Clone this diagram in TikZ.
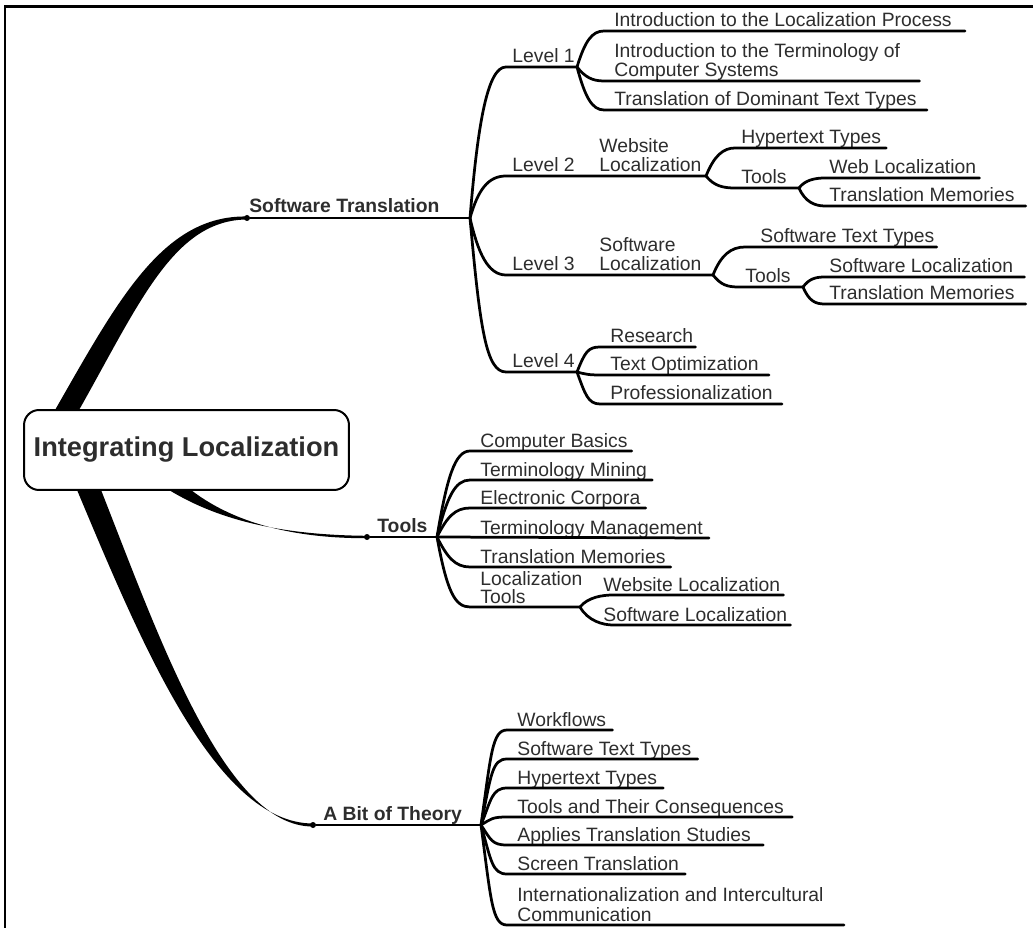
\documentclass[tikz,border=0pt]{standalone}
\usepackage{fontspec}
\setmainfont{Liberation Sans}
\usetikzlibrary{positioning}
\definecolor{labelgray}{RGB}{45,45,45}
\tikzstyle{root} = [rectangle, rounded corners=0.3cm, draw=black, line width=0.4mm,
                    minimum width=6.5cm, minimum height=1.6cm, text centered,
                    font=\fontsize{15.5}{18}\selectfont\bfseries, text=labelgray]
\tikzstyle{leaf} = [anchor=base west, inner sep=0pt, text=labelgray, align=left,
                    font=\fontsize{11}{11}\selectfont]
\tikzstyle{mainlabel} = [leaf, font=\fontsize{11}{11}\selectfont\bfseries]
\tikzstyle{limb} = [line width=0.55mm, line cap=round]
\tikzstyle{knot} = [circle, fill=black, inner sep=0pt, minimum size=1.2mm]

\begin{document}
\begin{tikzpicture}[x=0.02cm, y=-0.02cm]
    \useasboundingbox (0,0) rectangle (1033,928);
    % frame
    \draw[line width=0.6mm] (5,928) -- (5,7) -- (1033,7);

    \node (Root) [root] at (186.5,450) {Integrating Localization};

    % main topics
    \node (StDot) [knot] at (247,218) {};
    \node (SoftwareTranslation) [mainlabel] at (249,213) {Software Translation};
    \node (ToolsDot) [knot] at (367,537) {};
    \node (Tools) [mainlabel] at (377,532) {Tools};
    \node (TheoryDot) [knot] at (313,825) {};
    \node (Theory) [mainlabel] at (323,820) {A Bit of Theory};
    \coordinate (StJ) at (470,218);
    \coordinate (ToolsJ) at (437,537);
    \coordinate (TheoryJ) at (481,825);

    \fill ([shift={(32,1)}]Root.north west) .. controls (118,300) and (163,215) .. ([shift={(0,-1.5)}]StDot.center)
        -- ([shift={(0,1.5)}]StDot.center) .. controls (174,220) and (140,302) .. ([shift={(56,1)}]Root.north west) -- cycle;
    \fill ([shift={(146,-1)}]Root.south west) .. controls (215,518) and (275,535) .. ([shift={(0,-1.2)}]ToolsDot.center)
        -- ([shift={(0,1.2)}]ToolsDot.center) .. controls (275,538.5) and (222,514) .. ([shift={(168,-1)}]Root.south west) -- cycle;
    \fill ([shift={(54,-1)}]Root.south west) .. controls (140,640) and (215,823.5) .. ([shift={(0,-1.5)}]TheoryDot.center)
        -- ([shift={(0,1.5)}]TheoryDot.center) .. controls (225,827) and (160,640) .. ([shift={(78,-1)}]Root.south west) -- cycle;
    \draw[limb] (StDot) -- (StJ);
    \draw[limb] (ToolsDot) -- (ToolsJ);
    \draw[limb] (TheoryDot) -- (TheoryJ);

    % Software Translation
    \node (Level1) [leaf] at (512,63) {Level 1};
    \node (Level2) [leaf] at (512,172) {Level 2};
    \node (Level3) [leaf] at (512,271) {Level 3};
    \node (Level4) [leaf] at (512,368) {Level 4};
    \coordinate (Level1J) at (577,67);
    \coordinate (Level2J) at (706,176);
    \coordinate (Level3J) at (713,275);
    \coordinate (Level4J) at (577,372);
    \draw[limb] (StJ) .. controls +(8,-98) and +(-18,0) .. ([shift={(-6,4)}]Level1.base west) -- (Level1J);
    \draw[limb] (StJ) .. controls +(8,-28) and +(-18,0) .. ([shift={(-6,4)}]Level2.base west) -- (Level2J);
    \draw[limb] (StJ) .. controls +(8,35) and +(-18,0) .. ([shift={(-6,4)}]Level3.base west) -- (Level3J);
    \draw[limb] (StJ) .. controls +(10,110) and +(-20,0) .. ([shift={(-6,4)}]Level4.base west) -- (Level4J);

    % Level 1
    \node (Intro) [leaf] at (614,27) {Introduction to the Localization Process};
    \node (Terms) [leaf] at (614,77) {Introduction to the Terminology of\\Computer Systems};
    \node (Dominant) [leaf] at (614,106) {Translation of Dominant Text Types};
    \draw[limb] (Level1J) .. controls +(8,-26) and +(-12,0) .. ([shift={(-10,4)}]Intro.base west) -- ([shift={(13,4)}]Intro.base east);
    \draw[limb] (Level1J) .. controls +(8,10) and +(-12,0) .. ([shift={(-10,4)}]Terms.base west) -- ([shift={(19,4)}]Terms.base east);
    \draw[limb] (Level1J) .. controls +(8,30) and +(-12,0) .. ([shift={(-10,4)}]Dominant.base west) -- ([shift={(10,4)}]Dominant.base east);

    % Level 2
    \node (Website) [leaf] at (599,172) {Website\\Localization};
    \node (Hyper2) [leaf] at (741,144) {Hypertext Types};
    \node (Tools2) [leaf] at (741,184) {Tools};
    \coordinate (Tools2J) at (799,188);
    \node (WebLoc) [leaf] at (829,174) {Web Localization};
    \node (TM2) [leaf] at (829,202) {Translation Memories};
    \draw[limb] (Level2J) .. controls +(8,-20) and +(-12,0) .. ([shift={(-6,4)}]Hyper2.base west) -- ([shift={(5,4)}]Hyper2.base east);
    \draw[limb] (Level2J) .. controls +(8,10) and +(-12,0) .. ([shift={(-6,4)}]Tools2.base west) -- (Tools2J);
    \draw[limb] (Tools2J) .. controls +(6,-8) and +(-10,0) .. ([shift={(-4,4)}]WebLoc.base west) -- ([shift={(3,4)}]WebLoc.base east);
    \draw[limb] (Tools2J) .. controls +(6,14) and +(-10,0) .. ([shift={(-4,4)}]TM2.base west) -- ([shift={(11,4)}]TM2.base east);

    % Level 3
    \node (SoftLoc) [leaf] at (599,271) {Software\\Localization};
    \node (SoftTypes3) [leaf] at (760,243) {Software Text Types};
    \node (Tools3) [leaf] at (745,283) {Tools};
    \coordinate (Tools3J) at (803,287);
    \node (SwLoc3) [leaf] at (829,273) {Software Localization};
    \node (TM3) [leaf] at (829,300) {Translation Memories};
    \draw[limb] (Level3J) .. controls +(8,-20) and +(-14,0) .. ([shift={(-15,4)}]SoftTypes3.base west) -- ([shift={(2,4)}]SoftTypes3.base east);
    \draw[limb] (Level3J) .. controls +(8,10) and +(-12,0) .. ([shift={(-6,4)}]Tools3.base west) -- (Tools3J);
    \draw[limb] (Tools3J) .. controls +(6,-8) and +(-10,0) .. ([shift={(-4,4)}]SwLoc3.base west) -- ([shift={(11,4)}]SwLoc3.base east);
    \draw[limb] (Tools3J) .. controls +(6,14) and +(-10,0) .. ([shift={(-4,4)}]TM3.base west) -- ([shift={(11,4)}]TM3.base east);

    % Level 4
    \node (Research) [leaf] at (610,343) {Research};
    \node (TextOpt) [leaf] at (610,371) {Text Optimization};
    \node (Prof) [leaf] at (610,400) {Professionalization};
    \draw[limb] (Level4J) .. controls +(8,-20) and +(-12,0) .. ([shift={(-10,4)}]Research.base west) -- ([shift={(2,4)}]Research.base east);
    \draw[limb] (Level4J) .. controls +(8,2) and +(-12,0) .. ([shift={(-10,4)}]TextOpt.base west) -- ([shift={(10,4)}]TextOpt.base east);
    \draw[limb] (Level4J) .. controls +(8,22) and +(-12,0) .. ([shift={(-10,4)}]Prof.base west) -- ([shift={(9,4)}]Prof.base east);

    % Tools
    \node (Basics) [leaf] at (480,447) {Computer Basics};
    \node (Mining) [leaf] at (480,476) {Terminology Mining};
    \node (Corpora) [leaf] at (480,504) {Electronic Corpora};
    \node (TermMgmt) [leaf] at (480,534) {Terminology Management};
    \node (TM4) [leaf] at (480,563) {Translation Memories};
    \node (LocTools) [leaf, font=\fontsize{11}{10}\selectfont] at (480,603) {Localization\\Tools};
    \coordinate (LocToolsJ) at (580,607);
    \node (WebLoc4) [leaf] at (603,591) {Website Localization};
    \node (SwLoc4) [leaf] at (603,621) {Software Localization};
    \draw[limb] (ToolsJ) .. controls +(10,-60) and +(-15,0) .. ([shift={(-10,4)}]Basics.base west) -- ([shift={(4,4)}]Basics.base east);
    \draw[limb] (ToolsJ) .. controls +(10,-40) and +(-15,0) .. ([shift={(-10,4)}]Mining.base west) -- ([shift={(5,4)}]Mining.base east);
    \draw[limb] (ToolsJ) .. controls +(10,-20) and +(-15,0) .. ([shift={(-10,4)}]Corpora.base west) -- ([shift={(5,4)}]Corpora.base east);
    \draw[limb] (ToolsJ) -- ([shift={(6,4)}]TermMgmt.base east);
    \draw[limb] (ToolsJ) .. controls +(10,20) and +(-15,0) .. ([shift={(-10,4)}]TM4.base west) -- ([shift={(5,4)}]TM4.base east);
    \draw[limb] (ToolsJ) .. controls +(10,55) and +(-15,0) .. ([shift={(-10,4)}]LocTools.base west) -- (LocToolsJ);
    \draw[limb] (LocToolsJ) .. controls +(8,-10) and +(-10,0) .. ([shift={(10,4)}]WebLoc4.base west) -- ([shift={(3,4)}]WebLoc4.base east);
    \draw[limb] (LocToolsJ) .. controls +(8,14) and +(-10,0) .. ([shift={(10,4)}]SwLoc4.base west) -- ([shift={(3,4)}]SwLoc4.base east);

    % A Bit of Theory
    \node (Workflows) [leaf] at (517,726) {Workflows};
    \node (SoftTypes5) [leaf] at (517,755) {Software Text Types};
    \node (Hyper5) [leaf] at (517,784) {Hypertext Types};
    \node (Consequences) [leaf] at (517,813) {Tools and Their Consequences};
    \node (Applies) [leaf] at (517,841) {Applies Translation Studies};
    \node (Screen) [leaf] at (517,870) {Screen Translation};
    \node (Intl) [leaf] at (517,921) {Internationalization and Intercultural\\Communication};
    \draw[limb] (TheoryJ) .. controls +(10,-70) and +(-15,0) .. ([shift={(-10,4)}]Workflows.base west) -- ([shift={(6,4)}]Workflows.base east);
    \draw[limb] (TheoryJ) .. controls +(10,-50) and +(-15,0) .. ([shift={(-10,4)}]SoftTypes5.base west) -- ([shift={(6,4)}]SoftTypes5.base east);
    \draw[limb] (TheoryJ) .. controls +(10,-25) and +(-15,0) .. ([shift={(-10,4)}]Hyper5.base west) -- ([shift={(6,4)}]Hyper5.base east);
    \draw[limb] (TheoryJ) .. controls +(10,-6) and +(-15,0) .. ([shift={(-10,4)}]Consequences.base west) -- ([shift={(8,4)}]Consequences.base east);
    \draw[limb] (TheoryJ) .. controls +(10,15) and +(-15,0) .. ([shift={(-10,4)}]Applies.base west) -- ([shift={(12,4)}]Applies.base east);
    \draw[limb] (TheoryJ) .. controls +(10,35) and +(-15,0) .. ([shift={(-10,4)}]Screen.base west) -- ([shift={(6,4)}]Screen.base east);
    \draw[limb] (TheoryJ) .. controls +(10,75) and +(-15,0) .. ([shift={(-10,4)}]Intl.base west) -- ([shift={(20,4)}]Intl.base east);
\end{tikzpicture}
\end{document}
